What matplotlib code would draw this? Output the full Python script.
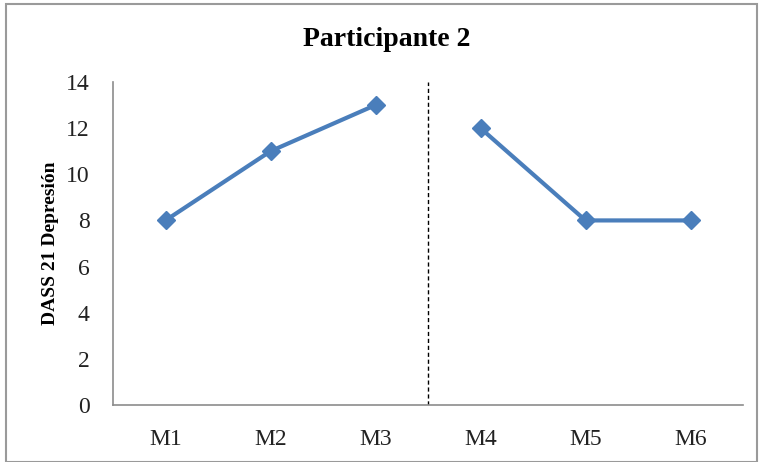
import matplotlib.pyplot as plt
from matplotlib.patches import Rectangle

sessions = ["M1", "M2", "M3", "M4", "M5", "M6"]
baseline = [8, 11, 13]
treatment = [12, 8, 8]

plt.rcParams['font.family'] = ['Liberation Serif', 'DejaVu Serif']

fig = plt.figure(figsize=(7.59, 4.62), dpi=100)
ax = fig.add_axes([113 / 759, 1 - 405 / 462, 630 / 759, 323 / 462])

blue = "#4a7ebb"
xb = list(range(len(baseline)))
xt = list(range(len(baseline), len(sessions)))
ax.plot(xb, baseline, color=blue, lw=3, marker="D", ms=9, clip_on=False)
ax.plot(xt, treatment, color=blue, lw=3, marker="D", ms=9, clip_on=False)

# phase change line
ax.axvline(len(baseline) - 0.5, color="black", lw=1, ls=(0, (3, 2)))

ax.set_xlim(-0.5, len(sessions) - 0.5)
ax.set_ylim(0, 14)
ax.set_yticks(range(0, 15, 2))
ax.set_xticks(range(len(sessions)))
ax.set_xticklabels(sessions)
ax.tick_params(length=0, labelsize=17, colors="#222222")
ax.tick_params(axis="x", pad=17)
ax.tick_params(axis="y", pad=17)
for s in ("top", "right"):
    ax.spines[s].set_visible(False)
for s in ("left", "bottom"):
    ax.spines[s].set_color("#8c8c8c")
    ax.spines[s].set_linewidth(1.2)

ax.set_ylabel("DASS 21 Depresión", fontsize=14, fontweight="bold", labelpad=5)
fig.text(387 / 759, 1 - 40 / 462, "Participante 2", ha="center", va="center",
         fontsize=20, fontweight="bold")

# outer frame
fig.patches.append(Rectangle((6 / 759, 0), 751 / 759, 1 - 4 / 462,
                             transform=fig.transFigure, fill=False,
                             edgecolor="#9a9a9a", lw=1.5))

fig.savefig("out.png", dpi=100)
